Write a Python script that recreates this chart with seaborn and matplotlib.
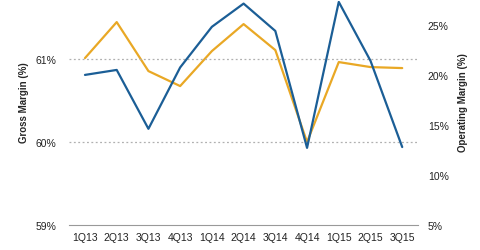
import matplotlib
matplotlib.use("Agg")
import matplotlib.pyplot as plt
import seaborn as sns
import pandas as pd
from matplotlib.ticker import FixedLocator, FuncFormatter

quarters = ["1Q13", "2Q13", "3Q13", "4Q13", "1Q14", "2Q14", "3Q14",
            "4Q14", "1Q15", "2Q15", "3Q15"]
gross_margin = [60.81, 60.87, 60.16, 60.90, 61.39, 61.67, 61.34,
                59.93, 61.69, 60.98, 59.94]
operating_margin = [21.7, 25.3, 20.4, 18.9, 22.4, 25.1, 22.5,
                    13.3, 21.3, 20.8, 20.7]
left_ticks = [59, 60, 61]
right_ticks = [5, 10, 15, 20, 25]

sns.set_style("white")
plt.rcParams['font.family'] = ['Liberation Sans', 'DejaVu Sans']

df = pd.DataFrame({"quarter": quarters, "gm": gross_margin, "om": operating_margin})
df["x"] = range(len(quarters))

fig = plt.figure(figsize=(4.8, 2.51), dpi=100)
ax = fig.add_axes([0.144, 0.0996, 0.727, 0.892])
ax2 = ax.twinx()

blue = "#1b5e96"
orange = "#e9a825"

sns.lineplot(data=df, x="x", y="om", ax=ax2, color=orange, linewidth=1.6, zorder=2)
sns.lineplot(data=df, x="x", y="gm", ax=ax, color=blue, linewidth=1.6, zorder=3)
ax.set_zorder(ax2.get_zorder() + 1)
ax.patch.set_visible(False)

ax.set_xlim(-0.5, len(quarters) - 0.5)
ax.set_ylim(59, 61.70)
ax2.set_ylim(5, 27.4)

ax.set_xticks(range(len(quarters)))
ax.set_xticklabels(quarters, fontsize=7.5, color="#222222")
ax.xaxis.set_minor_locator(FixedLocator([i - 0.5 for i in range(len(quarters) + 1)]))
ax.tick_params(axis="x", which="major", length=0, pad=5)
ax.tick_params(axis="x", which="minor", length=3, color="#999999", direction="out")

ax.set_yticks(left_ticks)
ax.yaxis.set_major_formatter(FuncFormatter(lambda v, p: f"{v:.0f}%"))
ax.tick_params(axis="y", length=0, labelsize=7.5, labelcolor="#222222", pad=9)
ax2.set_yticks(right_ticks)
ax2.yaxis.set_major_formatter(FuncFormatter(lambda v, p: f"{v:.0f}%"))
ax2.tick_params(axis="y", length=0, labelsize=7.5, labelcolor="#222222", pad=7)

for a in (ax, ax2):
    for s in ("left", "right", "top"):
        a.spines[s].set_visible(False)
    a.spines["bottom"].set_color("#999999")
    a.spines["bottom"].set_linewidth(0.8)
ax2.spines["bottom"].set_visible(False)

for v in [60, 61]:
    ax.axhline(v, color="#b0b0b0", linestyle=(0, (1.5, 2)), linewidth=0.9, zorder=1)

ax.set_xlabel("")
ax.set_ylabel("Gross Margin (%)", fontsize=7, fontweight="bold")
ax2.set_ylabel("Operating Margin (%)", fontsize=7, fontweight="bold")
ax.yaxis.set_label_coords(-0.115, 0.55)
ax2.yaxis.set_label_coords(1.115, 0.55)

fig.savefig("out.png", dpi=100)
